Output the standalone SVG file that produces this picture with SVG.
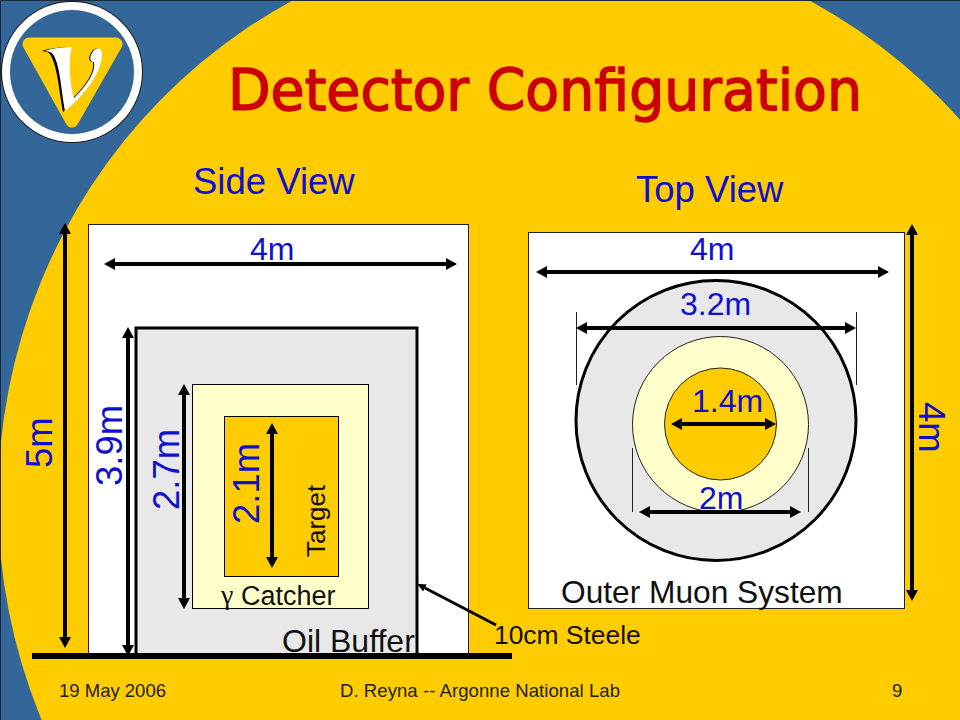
<svg xmlns="http://www.w3.org/2000/svg" width="960" height="720" viewBox="0 0 960 720">
<style>
text{font-family:"Liberation Sans",Arial,sans-serif;fill:#111}
.b{fill:#0f0fd0}
.d{font-size:32px}
.v{font-size:36.500px}
.f{font-size:18.500px;fill:#222}
.a{stroke:#000;stroke-width:4;fill:none;marker-start:url(#h);marker-end:url(#h)}
.t{stroke:#222;stroke-width:1;fill:none}
</style>
<defs>
<marker id="h" markerUnits="userSpaceOnUse" markerWidth="12" markerHeight="14" refX="0" refY="7" orient="auto-start-reverse" viewBox="0 0 12 14"><polygon points="0,1 11,7 0,13" fill="#000"/></marker>
<marker id="s" markerUnits="userSpaceOnUse" markerWidth="12" markerHeight="12" refX="0" refY="6" orient="auto" viewBox="0 0 12 12"><polygon points="0,2 9,6 0,10" fill="#000"/></marker>
</defs>
<g id="background">
<rect width="960" height="720" fill="#336699"/>
<ellipse cx="551" cy="500" rx="553" ry="565" fill="#FFCC00"/>
<path d="M.5,720V.5H960" fill="none" stroke="#1a2a3a" stroke-width="1"/>
</g>
<g id="logo">
<circle cx="72" cy="72" r="71" fill="#1a1a1a"/>
<circle cx="72" cy="72" r="70" fill="#fff"/>
<circle cx="72" cy="72" r="62" fill="#336699"/>
<path d="M29,44H116L72,121Z" fill="#FFCC00" stroke="#FFCC00" stroke-width="13" stroke-linejoin="round"/>
<path d="M42,51C50,48 62,47 71,47C67,60 69,85 73,98C86,85 95,72 93,62C89,62 88,58 91,53C94,47 101,47 101,54C101,72 84,95 63,112C59,90 57,62 49,53C46,51 44,52 42,51Z" fill="#000"/>
<path d="M45,51C52,48 63,47 72,47C68,60 70,85 74,98C87,85 96,72 94,62C90,62 89,58 92,53C95,47 102,47 102,54C102,72 85,95 65,111C61,90 60,62 52,53C49,51 47,52 45,51Z" fill="#fff"/>
</g>
<g id="title"><text x="228" y="110" font-size="57" textLength="634" lengthAdjust="spacingAndGlyphs" stroke="#CC0000" stroke-width="1.500" stroke-linejoin="round" style="font-family:'DejaVu Sans',sans-serif;fill:#CC0000">Detector Configuration</text></g>
<g id="side-view-label"><text class="b" x="193" y="194" font-size="36.500">Side View</text></g>
<g id="top-view-label"><text class="b" x="636" y="202" font-size="36.500">Top View</text></g>
<g id="side-outer"><rect x="88.500" y="224.500" width="380" height="432" fill="#fff" stroke="#222" stroke-width="1"/></g>
<g id="oil-buffer"><rect x="136" y="328" width="281" height="328" fill="#E8E8E8" stroke="#000" stroke-width="3"/><text x="282" y="652" class="d">Oil Buffer</text></g>
<g id="gamma-catcher"><rect x="192.500" y="384.500" width="176" height="224" fill="#FFFFCC" stroke="#000" stroke-width="1"/><text x="221" y="604" font-size="28" style="font-family:'Liberation Serif',serif">γ</text><text x="241" y="605" font-size="27">Catcher</text></g>
<g id="target"><rect x="224.500" y="416.500" width="114" height="160" fill="#FFCC00" stroke="#000" stroke-width="1"/><text transform="translate(325,557) rotate(-90)" font-size="26">Target</text></g>
<g id="top-outer"><rect x="528.500" y="232.500" width="376" height="376" fill="#fff" stroke="#222" stroke-width="1"/><text x="561" y="603" font-size="31.700">Outer Muon System</text></g>
<g id="top-oil"><circle cx="716" cy="420.500" r="140" fill="#E8E8E8" stroke="#000" stroke-width="3"/></g>
<g id="top-catcher"><circle cx="720.500" cy="424.500" r="88" fill="#FFFFCC" stroke="#222" stroke-width="1"/></g>
<g id="top-target"><circle cx="720.500" cy="424" r="56" fill="#FFCC00" stroke="#222" stroke-width="1"/></g>
<g id="connectors">
<path class="a" d="M65,234V637"/>
<path class="a" d="M128,338V645"/>
<path class="a" d="M184,395V598"/>
<path class="a" d="M272,434V557"/>
<path class="a" d="M115,264H446"/>
<path class="a" d="M547,272H878"/>
<path class="a" d="M587,328H845"/>
<path class="a" d="M682,424H765"/>
<path class="a" d="M650,512H790"/>
<path class="a" d="M912,235V590"/>
<path class="t" d="M576.500,312V385M856.500,312V385M632.500,448V512M808.500,448V512"/>
<path d="M496,625L425,588" stroke="#000" stroke-width="3" fill="none" marker-end="url(#s)"/>
<path d="M32,656H512" stroke="#000" stroke-width="6" fill="none"/>
</g>
<g id="dimension-labels">
<text class="b d" x="250" y="260">4m</text>
<text class="b d" x="690" y="260">4m</text>
<text class="b d" x="680" y="315">3.2m</text>
<text class="b d" x="692" y="412">1.4m</text>
<text class="b d" x="699" y="509">2m</text>
<text class="b v" transform="translate(919,402) rotate(90)">4m</text>
<text class="b v" transform="translate(52,468) rotate(-90)">5m</text>
<text class="b v" transform="translate(122,486) rotate(-90)">3.9m</text>
<text class="b v" transform="translate(179,510) rotate(-90)">2.7m</text>
<text class="b v" transform="translate(259,524) rotate(-90)">2.1m</text>
</g>
<g id="steel-label"><text x="494" y="644" font-size="26.400">10cm Steele</text></g>
<g id="footer">
<text class="f" x="59" y="697">19 May 2006</text>
<text class="f" x="340" y="697" textLength="280">D. Reyna -- Argonne National Lab</text>
<text class="f" x="892" y="697">9</text>
</g>
</svg>
